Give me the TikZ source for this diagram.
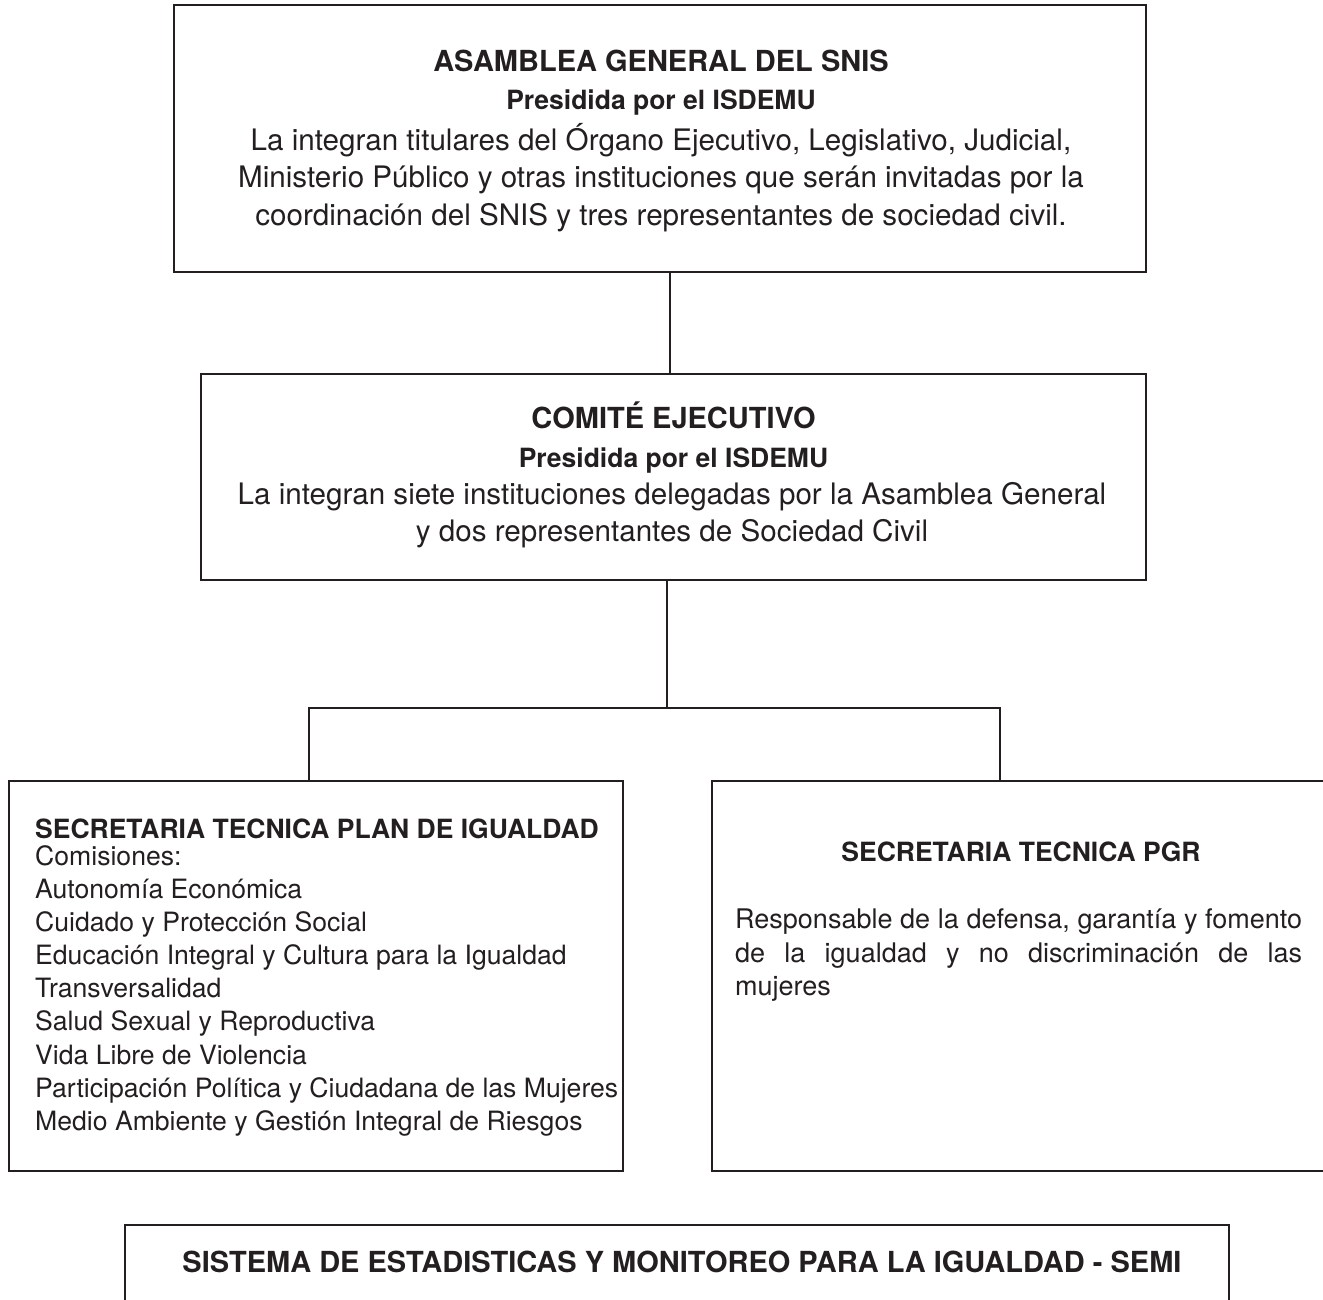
\documentclass[tikz,border=0pt]{standalone}
\usepackage{fontspec}
\setmainfont{TeX Gyre Heros}
\definecolor{ink}{HTML}{231F20}
\begin{document}
\begin{tikzpicture}[x=1pt,y=-1pt,
  box/.style={draw=ink, line width=2.6pt, rectangle, inner sep=0pt},
  conn/.style={draw=ink, line width=2.2pt},
  bigttl/.style={font=\fontsize{29}{34}\selectfont\bfseries, text=ink, inner sep=0pt, anchor=base},
  subttl/.style={font=\fontsize{26.5}{32}\selectfont\bfseries, text=ink, inner sep=0pt, anchor=base},
  bigtxt/.style={font=\fontsize{29.6}{37}\selectfont, text=ink, inner sep=0pt, anchor=base},
  smttl/.style={font=\fontsize{26.5}{32}\selectfont\bfseries, text=ink, inner sep=0pt},
  smtxt/.style={font=\fontsize{26.6}{33}\selectfont, text=ink, inner sep=0pt, anchor=base west},
  rtxt/.style={font=\fontsize{27}{33}\selectfont, text=ink, inner sep=0pt, anchor=base west}
]
\useasboundingbox (0,0) rectangle (1323,1299);
\clip (0,0) rectangle (1323,1299);

% boxes
\node[box, minimum width=972pt, minimum height=267pt] (A) at (660,138.5) {};
\node[box, minimum width=945pt, minimum height=206pt] (B) at (673.5,477) {};
\node[box, minimum width=614pt, minimum height=390pt] (C) at (316,976) {};
\node[box, minimum width=618pt, minimum height=390pt] (D) at (1021,976) {};
\node[box, minimum width=1104pt, minimum height=85pt] (E) at (677,1267.5) {};

% connectors
\coordinate (J) at (667,709);
\draw[conn] ([xshift=10pt]A.south) -- ([xshift=10pt]A.south |- B.north);
\draw[conn] ([xshift=-6.5pt]B.south) -- ([xshift=-6.5pt]B.south |- J);
\draw[conn] ([xshift=-7pt]C.north) -- ++(0,-72) -| ([xshift=-21pt]D.north);

% box A text
\node[bigttl] (a1) at (661,71) {ASAMBLEA GENERAL DEL SNIS};
\node[subttl] (a2) at (661,109) {Presidida por el ISDEMU};
\node[bigtxt] (a3) at (661,150) {La integran titulares del Órgano Ejecutivo, Legislativo, Judicial,};
\node[bigtxt] (a4) at (661,187.5) {Ministerio Público y otras instituciones que serán invitadas por la};
\node[bigtxt] (a5) at (661,225) {coordinación del SNIS y tres representantes de sociedad civil.};

% box B text
\node[bigttl] (b1) at (673.5,428.5) {COMITÉ EJECUTIVO};
\node[subttl] (b2) at (673.5,467) {Presidida por el ISDEMU};
\node[bigtxt] (b3) at (672,504) {La integran siete instituciones delegadas por la Asamblea General};
\node[bigtxt] (b4) at (672,541.5) {y dos representantes de Sociedad Civil};

% box C text
\node[smttl, anchor=base west] (c0) at (35,838.5) {SECRETARIA TECNICA PLAN DE IGUALDAD};
\node[smtxt] (c1) at (35,865) {Comisiones:};
\node[smtxt] (c2) at (35,898) {Autonomía Económica};
\node[smtxt] (c3) at (35,931) {Cuidado y Protección Social};
\node[smtxt] (c4) at (35,964) {Educación Integral y Cultura para la Igualdad};
\node[smtxt] (c5) at (35,997) {Transversalidad};
\node[smtxt] (c6) at (35,1030.5) {Salud Sexual y Reproductiva};
\node[smtxt] (c7) at (35,1064) {Vida Libre de Violencia};
\node[smtxt] (c8) at (35,1097) {Participación Política y Ciudadana de las Mujeres};
\node[smtxt] (c9) at (35,1130) {Medio Ambiente y Gestión Integral de Riesgos};

% box D text
\node[smttl, anchor=base] (d0) at (1021,861.5) {SECRETARIA TECNICA PGR};
\node[rtxt] (d1) at (735,928) {\makebox[567pt][s]{Responsable de la defensa, garantía y fomento}};
\node[rtxt] (d2) at (735,962) {\makebox[567pt][s]{de la igualdad y no discriminación de las}};
\node[rtxt] (d3) at (735,995) {mujeres};

% box E text
\node[bigttl] (e1) at (682,1272.5) {SISTEMA DE ESTADISTICAS Y MONITOREO PARA LA IGUALDAD - SEMI};
\end{tikzpicture}
\end{document}
